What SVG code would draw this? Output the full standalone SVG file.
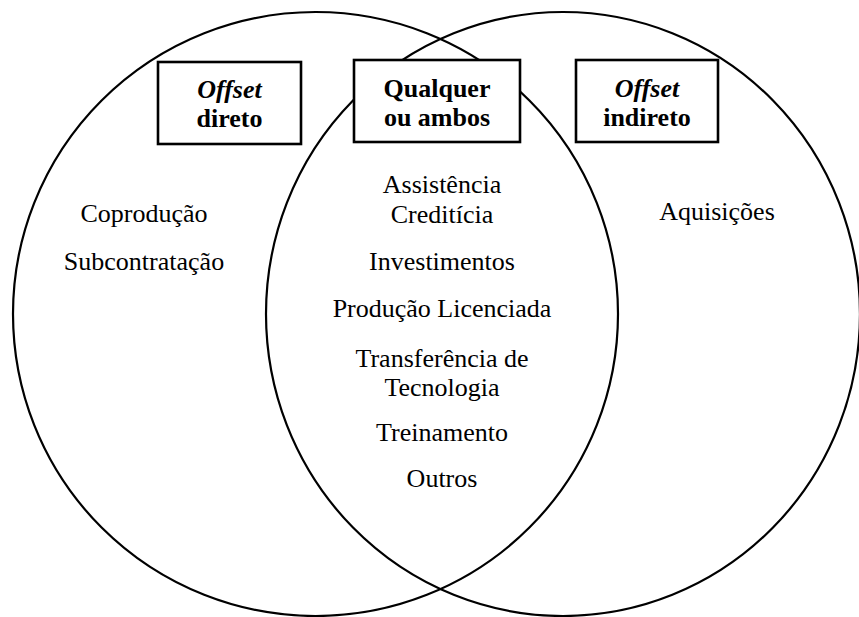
<svg xmlns="http://www.w3.org/2000/svg" width="859" height="617" viewBox="0 0 859 617">
<style>
  .circ { fill: none; stroke: #000; stroke-width: 2.2; }
  .box { fill: #fff; stroke: #000; stroke-width: 2.6; }
  text { font-family: 'Liberation Serif', 'Times New Roman', serif; fill: #000; text-anchor: middle; }
  .t { font-size: 26px; }
  .b { font-size: 26px; font-weight: bold; }
  .bi { font-style: italic; }
</style>
<rect width="859" height="617" fill="#fff"/>
<g id="circles">
  <ellipse id="circle-direto" class="circ" cx="315.5" cy="314" rx="302.5" ry="302"/>
  <ellipse id="circle-indireto" class="circ" cx="563" cy="314" rx="297" ry="302"/>
</g>
<g id="connectors"></g>
<g id="box-direto">
  <rect class="box" x="158" y="62" width="143" height="82"/>
  <text class="b bi" x="229.5" y="98">Offset</text>
  <text class="b" x="229.5" y="127">direto</text>
</g>
<g id="box-ambos">
  <rect class="box" x="354" y="60" width="166" height="82"/>
  <text class="b" x="437" y="97">Qualquer</text>
  <text class="b" x="437" y="126">ou ambos</text>
</g>
<g id="box-indireto">
  <rect class="box" x="576" y="60" width="142" height="82"/>
  <text class="b bi" x="647" y="97">Offset</text>
  <text class="b" x="647" y="126">indireto</text>
</g>
<g id="left-items">
  <text class="t" x="144" y="222">Coprodução</text>
  <text class="t" x="144" y="270">Subcontratação</text>
</g>
<g id="right-items">
  <text class="t" x="717" y="220">Aquisições</text>
</g>
<g id="middle-items">
  <text class="t" x="442" y="193">Assistência</text>
  <text class="t" x="442" y="223">Creditícia</text>
  <text class="t" x="442" y="270">Investimentos</text>
  <text class="t" x="442" y="317">Produção Licenciada</text>
  <text class="t" x="442" y="367">Transferência de</text>
  <text class="t" x="442" y="396">Tecnologia</text>
  <text class="t" x="442" y="441">Treinamento</text>
  <text class="t" x="442" y="487">Outros</text>
</g>
</svg>
